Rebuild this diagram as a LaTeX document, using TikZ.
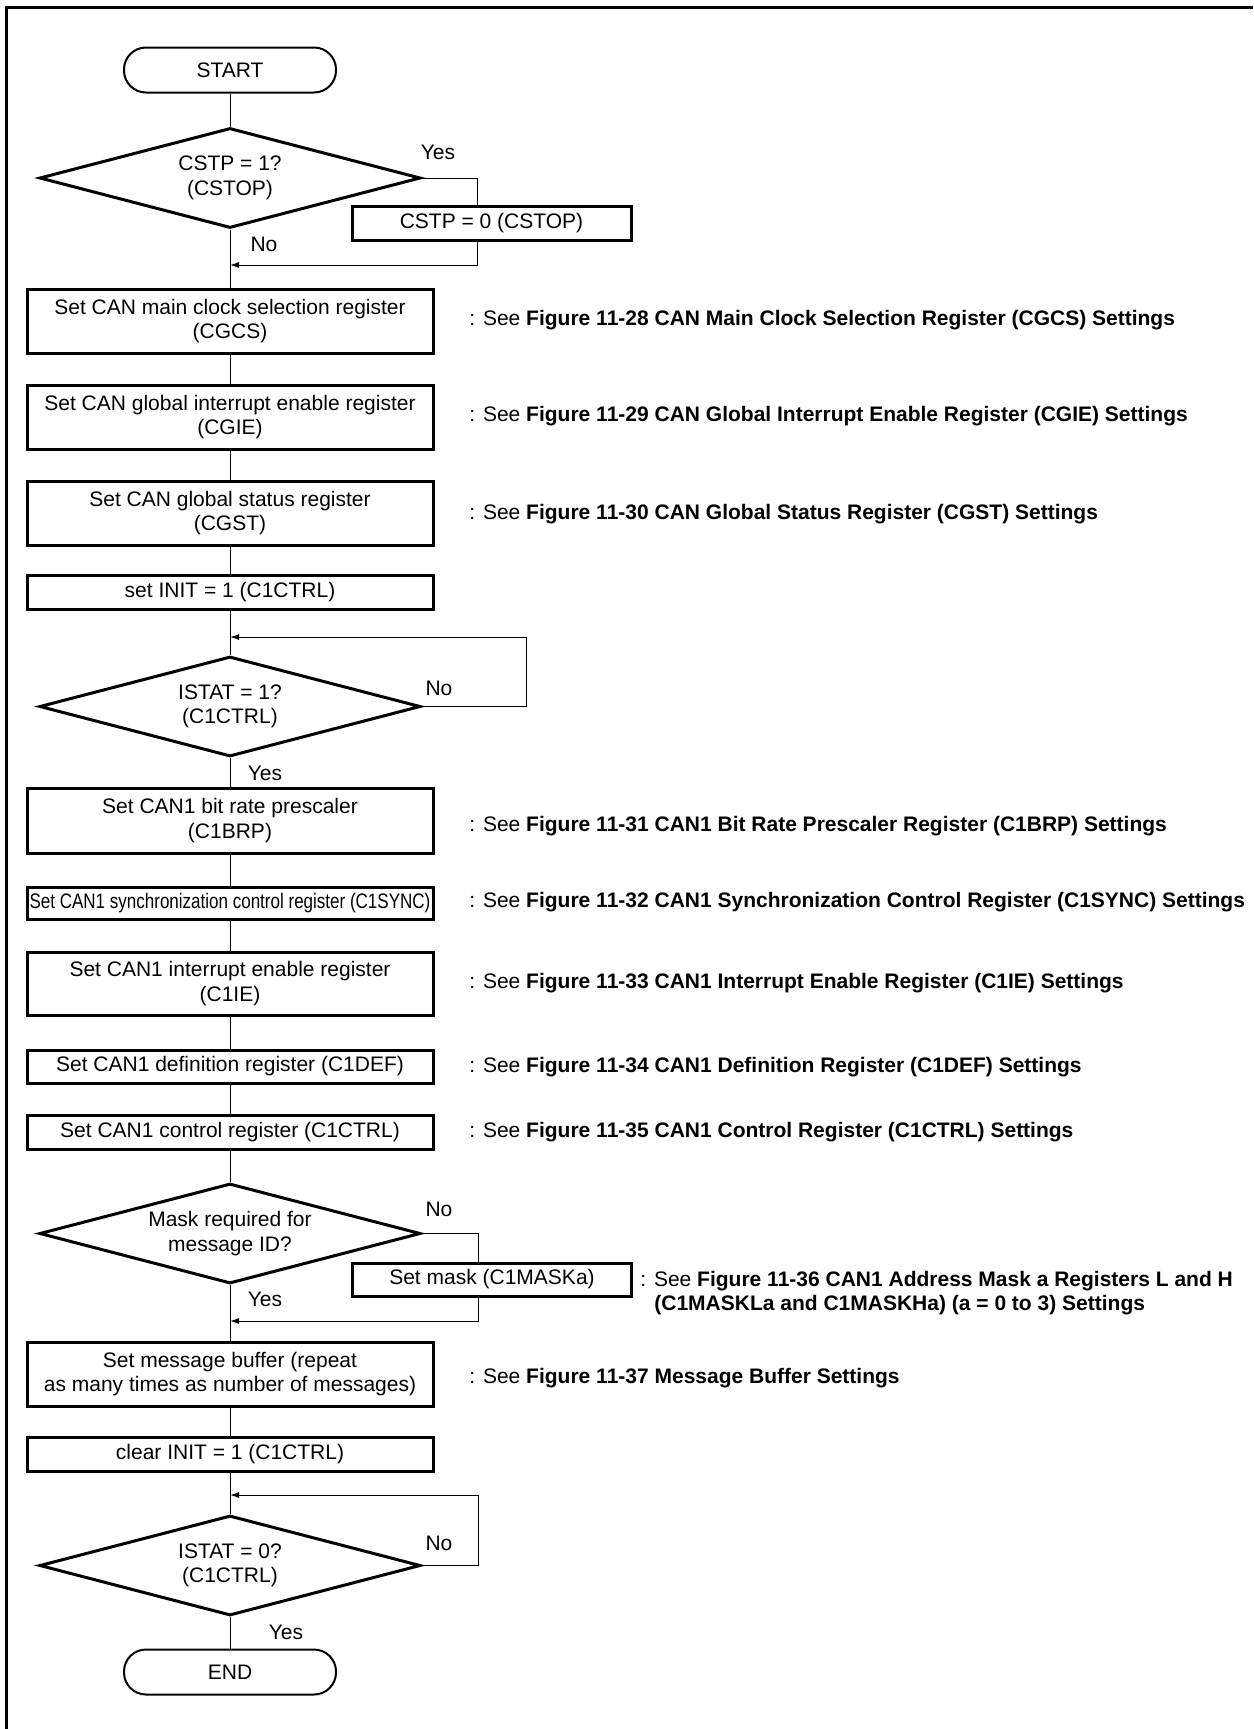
\documentclass[tikz,border=0pt]{standalone}
\usepackage{fontspec}
\setmainfont{Liberation Sans}
\usetikzlibrary{shapes.geometric,arrows.meta}
\begin{document}
\begin{tikzpicture}[x=0.5pt,y=-0.5pt,
  font=\fontsize{10.5}{12.2}\selectfont,
  proc/.style={draw, line width=1.5pt, minimum width=203pt, inner sep=0pt, align=center},
  sproc/.style={draw, line width=1.5pt, minimum width=139.5pt, inner sep=0pt, align=center},
  term/.style={draw, line width=1pt, rounded corners=11pt, minimum width=106pt, minimum height=22.5pt, inner sep=0pt},
  dec/.style={draw, diamond, aspect=3.8, line width=1.5pt, minimum width=190.5pt, minimum height=50pt, inner sep=0pt, align=center},
  conn/.style={line width=0.5pt},
  arr/.style={line width=0.5pt, -{Latex[length=4.5pt,width=3pt]}},
  lbl/.style={inner sep=0pt},
  note/.style={anchor=west, inner sep=0pt, align=left}]
\useasboundingbox (0,0) rectangle (1253,1729);
\draw[line width=1.5pt] (6,1729) -- (6,7) -- (1253,7);

% main column
\node[term] (start) at (230,70) {START};
\node[dec] (d1) at (230,178) {CSTP = 1?\\(CSTOP)};
\node[sproc, minimum height=17pt] (c0) at (491.5,223) {CSTP = 0 (CSTOP)};
\coordinate (j1) at (230,265);
\node[proc, minimum height=32pt] (b1) at (230,321) {Set CAN main clock selection register\\(CGCS)};
\node[proc, minimum height=32pt] (b2) at (230,417) {Set CAN global interrupt enable register\\(CGIE)};
\node[proc, minimum height=32pt] (b3) at (230,513) {Set CAN global status register\\(CGST)};
\node[proc, minimum height=17pt] (b4) at (230,592) {set INIT = 1 (C1CTRL)};
\coordinate (j2) at (230,637);
\coordinate (l2) at (526,637);
\node[dec] (d2) at (230,706.5) {ISTAT = 1?\\(C1CTRL)};
\node[proc, minimum height=32.5pt] (b5) at (230,820.5) {Set CAN1 bit rate prescaler\\(C1BRP)};
\node[proc, minimum height=16pt] (b6) at (230,903) {\scalebox{0.81}[1]{Set CAN1 synchronization control register (C1SYNC)}};
\node[proc, minimum height=31.5pt] (b7) at (230,983.5) {Set CAN1 interrupt enable register\\(C1IE)};
\node[proc, minimum height=16.5pt] (b8) at (230,1066.5) {Set CAN1 definition register (C1DEF)};
\node[proc, minimum height=17pt] (b9) at (230,1132) {Set CAN1 control register (C1CTRL)};
\node[dec] (d3) at (230,1233.5) {Mask required for\\message ID?};
\node[sproc, minimum height=16.5pt] (m0) at (492,1279.5) {Set mask (C1MASKa)};
\coordinate (j3) at (230,1321);
\node[proc, minimum height=32pt] (b10) at (230,1374) {Set message buffer (repeat\\as many times as number of messages)};
\node[proc, minimum height=17pt] (b11) at (230,1454) {clear INIT = 1 (C1CTRL)};
\coordinate (j4) at (230,1495);
\coordinate (l4) at (478,1495);
\node[dec] (d4) at (230,1565.5) {ISTAT = 0?\\(C1CTRL)};
\node[term] (end) at (230,1672) {END};

% connectors
\draw[conn] (start) -- (d1);
\draw[conn] (d1.east) -| ([xshift=-7pt]c0.north);
\draw[arr] ([xshift=-7pt]c0.south) |- (j1);
\draw[conn] (d1.south) -- (b1.north);
\draw[conn] (b1) -- (b2);
\draw[conn] (b2) -- (b3);
\draw[conn] (b3) -- (b4);
\draw[conn] (b4.south) -- (d2.north);
\draw[arr] (d2.east) -| (l2) -- (j2);
\draw[conn] (d2.south) -- (b5.north);
\draw[conn] (b5) -- (b6);
\draw[conn] (b6) -- (b7);
\draw[conn] (b7) -- (b8);
\draw[conn] (b8) -- (b9);
\draw[conn] (b9.south) -- (d3.north);
\draw[conn] (d3.east) -| ([xshift=-7pt]m0.north);
\draw[arr] ([xshift=-7pt]m0.south) |- (j3);
\draw[conn] (d3.south) -- (b10.north);
\draw[conn] (b10) -- (b11);
\draw[conn] (b11.south) -- (d4.north);
\draw[arr] (d4.east) -| (l4) -- (j4);
\draw[conn] (d4.south) -- (end.north);

% branch labels
\node[lbl] (y1) at (438,152) {Yes};
\node[lbl] (n1) at (264,244) {No};
\node[lbl] (n2) at (439,688) {No};
\node[lbl] (y2) at (265,773) {Yes};
\node[lbl] (n3) at (439,1209) {No};
\node[lbl] (y3) at (265,1299) {Yes};
\node[lbl] (n4) at (439,1543) {No};
\node[lbl] (y4) at (286,1632) {Yes};

% annotations
\node[note] (a1) at (469,320) {: See \textbf{Figure 11-28 CAN Main Clock Selection Register (CGCS) Settings}};
\node[note] (a2) at (469,416) {: See \textbf{Figure 11-29 CAN Global Interrupt Enable Register (CGIE) Settings}};
\node[note] (a3) at (469,514) {: See \textbf{Figure 11-30 CAN Global Status Register (CGST) Settings}};
\node[note] (a5) at (469,826) {: See \textbf{Figure 11-31 CAN1 Bit Rate Prescaler Register (C1BRP) Settings}};
\node[note] (a6) at (469,902) {: See \textbf{Figure 11-32 CAN1 Synchronization Control Register (C1SYNC) Settings}};
\node[note] (a7) at (469,983) {: See \textbf{Figure 11-33 CAN1 Interrupt Enable Register (C1IE) Settings}};
\node[note] (a8) at (469,1067) {: See \textbf{Figure 11-34 CAN1 Definition Register (C1DEF) Settings}};
\node[note] (a9) at (469,1132) {: See \textbf{Figure 11-35 CAN1 Control Register (C1CTRL) Settings}};
\node[note] (am1) at (640,1281) {: See \textbf{Figure 11-36 CAN1 Address Mask a Registers L and H}};
\node[note] (am2) at (654,1305) {\textbf{(C1MASKLa and C1MASKHa) (a = 0 to 3) Settings}};
\node[note] (a10) at (469,1378) {: See \textbf{Figure 11-37 Message Buffer Settings}};
\end{tikzpicture}
\end{document}
